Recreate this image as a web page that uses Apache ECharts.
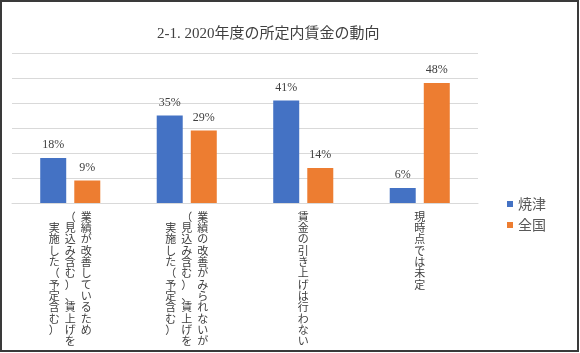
<!DOCTYPE html>
<html>
<head>
<meta charset="utf-8">
<script src="https://cdn.jsdelivr.net/npm/echarts@6/dist/echarts.min.js"></script>
<style>
html,body{margin:0;padding:0;background:#fff;}
#chart{width:580px;height:353px;}
</style>
</head>
<body>
<div id="chart"></div>
<script>
// Data
const titleText = '2-1. 2020年度の所定内賃金の動向';
// each category: vertical columns separated by \n, in reading order (rightmost column first)
const categories = [
  '業績が改善しているため\n（見込み含む）、賃上げを\n実施した（予定含む）',
  '業績の改善がみられないが\n（見込み含む）、賃上げを\n実施した（予定含む）',
  '賃金の引き上げは行わない',
  '現時点では未定'
];
const seriesNames = ['焼津', '全国'];
const yaizuValues = [18, 35, 41, 6];
const zenkokuValues = [9, 29, 14, 48];
const colors = ['#4472C4', '#ED7D31'];

function tategaki(v) {
  const cols = v.split('\n').map(c => Array.from(c));
  const max = Math.max(...cols.map(c => c.length));
  const padded = cols.map(a => {
    const pre = Math.floor((max - a.length) / 2);
    return Array(pre).fill('　').concat(a, Array(max - a.length - pre).fill('　'));
  });
  const rev = padded.slice().reverse();
  const rows = [];
  for (let i = 0; i < max; i++) rows.push(rev.map(p => p[i]).join('  '));
  return rows.join('\n');
}

const chart = echarts.init(document.getElementById('chart'), null, {renderer: 'canvas'});
const labelStyle = {
  show: true, position: 'top', distance: 7,
  formatter: '{c}%', color: '#404040', fontSize: 12,
  fontFamily: '"Liberation Serif", "Noto Sans CJK JP", serif'
};
chart.setOption({
  animation: false,
  backgroundColor: '#fff',
  title: {
    text: titleText,
    left: 152, top: 22,
    textStyle: {
      fontSize: 15, fontWeight: 'normal', color: '#404040',
      fontFamily: '"Liberation Serif", "Noto Sans CJK JP", serif'
    }
  },
  legend: {
    orient: 'vertical', left: 502, top: 192,
    itemWidth: 6, itemHeight: 6, icon: 'rect', itemGap: 7,
    textStyle: {fontSize: 14, color: '#595959', fontFamily: '"Noto Sans CJK JP", sans-serif'},
    data: seriesNames
  },
  grid: {left: 12, right: 102, top: 53, bottom: 150, containLabel: false},
  xAxis: {
    type: 'category', data: categories,
    axisLine: {lineStyle: {color: '#d9d9d9', width: 1}},
    axisTick: {show: false},
    axisLabel: {
      interval: 0, margin: 8, hideOverlap: false,
      formatter: tategaki,
      fontSize: 11, lineHeight: 11.3, color: '#404040',
      fontFamily: '"Noto Sans CJK JP", sans-serif',
      verticalAlign: 'top', align: 'center'
    }
  },
  yAxis: {
    type: 'value', min: 0, max: 60, interval: 10,
    axisLabel: {show: false}, axisLine: {show: false}, axisTick: {show: false},
    splitLine: {lineStyle: {color: '#d9d9d9', width: 1}}
  },
  series: [
    {name: seriesNames[0], type: 'bar', data: yaizuValues, barWidth: 26, barGap: '31%',
     itemStyle: {color: colors[0]}, label: labelStyle},
    {name: seriesNames[1], type: 'bar', data: zenkokuValues, barWidth: 26, barGap: '31%',
     itemStyle: {color: colors[1]}, label: labelStyle}
  ],
  graphic: [{
    type: 'rect', silent: true, z: 100,
    shape: {x: 1, y: 1, width: 577, height: 350},
    style: {fill: null, stroke: '#3a3a3a', lineWidth: 2}
  }]
});
</script>
</body>
</html>
